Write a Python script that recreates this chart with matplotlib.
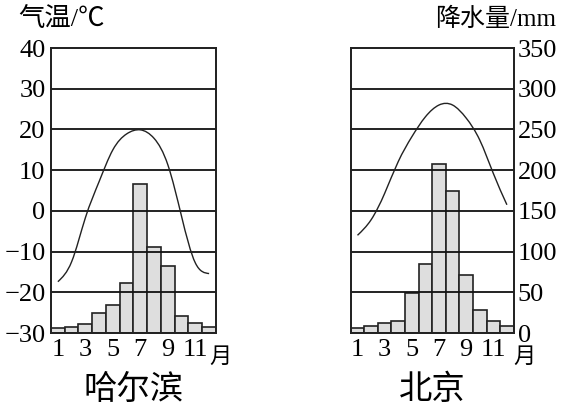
import numpy as np
import matplotlib
matplotlib.use('Agg')
import matplotlib.pyplot as plt
from matplotlib.path import Path
from matplotlib.patches import PathPatch

plt.rcParams['font.family'] = ['Liberation Serif', 'Noto Sans CJK SC']
plt.rcParams['axes.unicode_minus'] = True

months = list(range(1, 13))
month_ticks = [1, 3, 5, 7, 9, 11]

# Harbin
hrb_temp = [-17.4, -12.5, -1.7, 7.2, 15.0, 18.9, 19.9, 17.8, 11.3, -1.4, -12.8, -15.4]
hrb_rain = [6, 7, 11, 24, 34, 61, 183, 106, 82, 21, 12, 7]

# Beijing
bj_temp = [-6.0, -2.2, 4.3, 12.1, 18.2, 23.1, 26.0, 26.0, 22.8, 17.4, 9.2, 1.5]
bj_rain = [6, 9, 12, 15, 49, 85, 208, 174, 71, 28, 15, 9]

temp_ticks = [-30, -20, -10, 0, 10, 20, 30, 40]
rain_ticks = [0, 50, 100, 150, 200, 250, 300, 350]


def smooth_path(xs, ys):
    # natural cubic spline through the monthly values (unit spacing),
    # handed to matplotlib as cubic Bezier segments
    x = np.asarray(xs, float)
    y = np.asarray(ys, float)
    n = len(y)
    A = np.zeros((n, n))
    b = np.zeros(n)
    A[0, 0] = A[-1, -1] = 1.0
    for i in range(1, n - 1):
        A[i, i - 1:i + 2] = [1.0, 4.0, 1.0]
        b[i] = 6.0 * (y[i + 1] - 2 * y[i] + y[i - 1])
    M = np.linalg.solve(A, b)
    d = np.zeros(n)
    d[:-1] = (y[1:] - y[:-1]) - (2 * M[:-1] + M[1:]) / 6.0
    d[-1] = (y[-1] - y[-2]) + (M[-2] + 2 * M[-1]) / 6.0
    verts = [(x[0], y[0])]
    codes = [Path.MOVETO]
    for i in range(n - 1):
        verts += [(x[i] + 1 / 3, y[i] + d[i] / 3),
                  (x[i + 1] - 1 / 3, y[i + 1] - d[i + 1] / 3),
                  (x[i + 1], y[i + 1])]
        codes += [Path.CURVE4] * 3
    return Path(verts, codes)


def panel(rect, temp, rain, name, left_labels, yue_x):
    ax = fig.add_axes(rect)
    ax2 = ax.twinx()
    ax2.set_zorder(1)
    ax.set_zorder(2)
    ax.patch.set_visible(False)

    ax2.bar(months, rain, width=1.0, color='#dedede', edgecolor='#222222',
            linewidth=1.2)
    ax2.set_ylim(0, 350)
    ax2.set_yticks(rain_ticks)

    ax.set_xlim(0.5, 12.5)
    ax.set_ylim(-30, 40)
    ax.set_yticks(temp_ticks)
    for t in temp_ticks[1:-1]:
        ax.axhline(t, color='#111111', linewidth=1.3, zorder=0)
    ax.add_patch(PathPatch(smooth_path(months, temp), facecolor='none',
                           edgecolor='#222222', linewidth=1.0, zorder=3))

    ax.set_xticks(month_ticks)
    ax.set_xticklabels([str(m) for m in month_ticks])
    ax.tick_params(axis='x', length=0, pad=4, labelsize=19)
    ax.tick_params(axis='y', length=0, pad=4, labelsize=19)
    ax2.tick_params(axis='y', length=0, pad=3, labelsize=19)
    if left_labels:
        ax2.set_yticklabels([])
    else:
        ax.set_yticklabels([])
    for a in (ax, ax2):
        for s in a.spines.values():
            s.set_linewidth(1.3)
            s.set_color('#222222')
    ax.text(yue_x, -33.0, '月', fontsize=16, ha='left', va='top',
            family='Noto Sans CJK SC')
    ax.text(6.5, -43.8, name, fontsize=24, ha='center', va='center',
            family='Noto Sans CJK SC')
    return ax


fig = plt.figure(figsize=(5.66, 4.13), dpi=100)
panel([0.0901, 0.1937, 0.2915, 0.690], hrb_temp, hrb_rain, '哈尔滨', True, 12.05)
panel([0.6196, 0.1937, 0.288, 0.690], bj_temp, bj_rain, '北京', False, 12.45)

fig.text(18 / 566, 1 - 19 / 413, '气温/℃', fontsize=19, ha='left', va='center')
fig.text(556 / 566, 1 - 19 / 413, '降水量/mm', fontsize=18, ha='right', va='center')

fig.savefig('out.png', dpi=100)
